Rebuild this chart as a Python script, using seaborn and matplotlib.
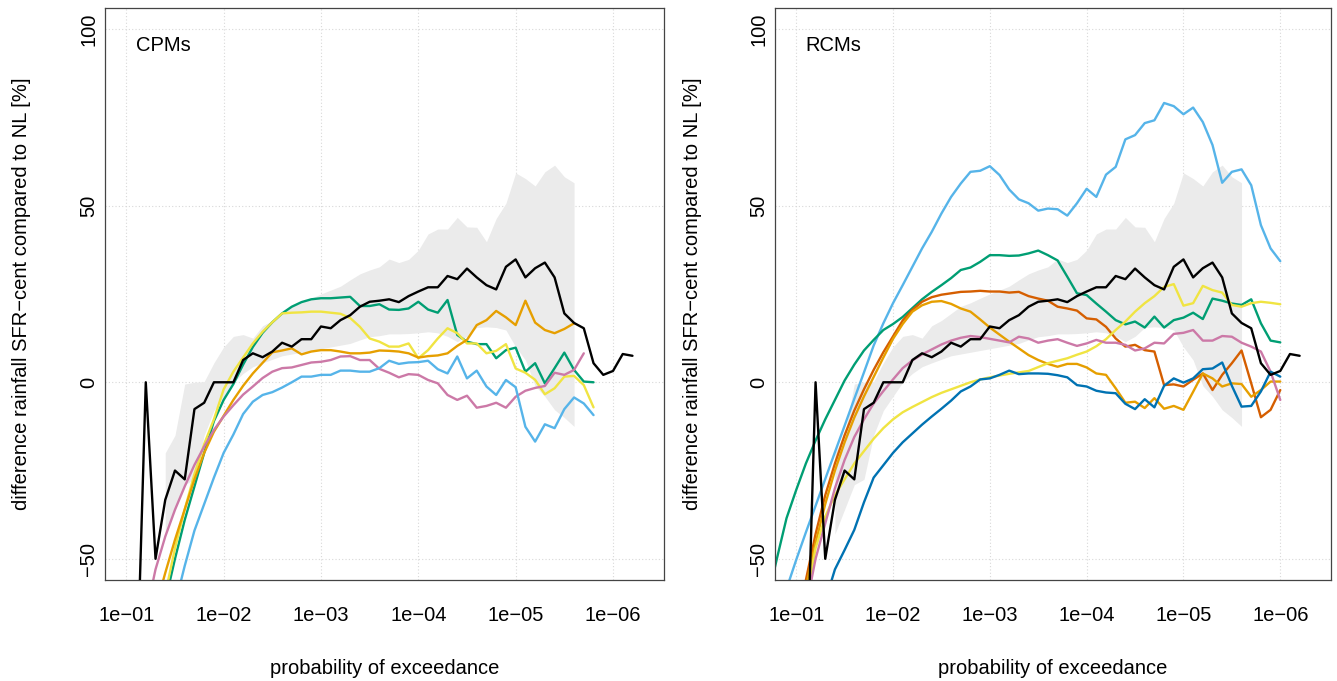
import numpy as np
import matplotlib
matplotlib.use("Agg")
import matplotlib.pyplot as plt
import seaborn as sns

# exceedance probabilities on a grid of 0.1 decade, index k -> 10**(-1 - 0.1*k)
def probs(k0, n):
    return 10.0 ** (-1 - 0.1 * (k0 + np.arange(n)))

# observations (black) and grey ensemble band, same in both panels
obs_k0 = 1
obs = [-93, 0, -50, -33.3, -25, -27.5, -7.6, -5.8, 0, 0,
       0, 6.3, 8.2, 7.1, 8.7, 11.2, 10.1, 12.2, 12.2, 15.8,
       15.3, 17.6, 19, 21.4, 22.8, 23.1, 23.5, 22.7, 24.4, 25.7,
       26.9, 26.9, 30.1, 29.2, 32.2, 29.7, 27.5, 26.3, 32.7, 34.8,
       29.7, 32.3, 33.9, 29.7, 19.5, 16.8, 15.3, 5.4, 2.1, 3.2,
       8.0, 7.5]

band_k0 = 4
band_hi = [-20, -15, -0.5, 0, 0.2, 5.5, 10, 13, 13.5, 12.5,
           16, 17.5, 19.5, 21.5, 22.5, 23.8, 25, 26.1, 27.2, 29,
           30.7, 31.8, 32.7, 34.9, 33.9, 34.8, 37.4, 42, 43.4, 43.4,
           46.7, 44, 43.9, 39.8, 46.4, 50.7, 59.3, 57.7, 55.6, 59.6,
           61.5, 58.2, 56.5]
band_lo = [-43, -36, -29, -27.5, -15, -8, -4, 0, 2.5, 4.4,
           5.5, 6.5, 7.5, 8, 8.5, 9, 9.5, 10, 10.5, 11,
           12, 12.9, 13.2, 13.7, 13.7, 13.8, 14, 14.3, 14, 13,
           11.5, 13, 15.5, 15.7, 15.5, 14.8, 10, 6.3, -1, -4,
           -7.8, -10, -12.5]

# CPMs
cpm_green_k0 = 4
cpm_green = [-62, -50, -39, -29.5, -20, -11, -5, -0.5, 5, 10,
             14, 17, 19.5, 21.4, 22.7, 23.5, 23.8, 23.8, 24, 24.2,
             21.6, 21.6, 22.1, 20.6, 20.5, 20.9, 22.8, 20.6, 19.7, 23.3,
             13.4, 11.5, 10.8, 10.8, 6.8, 9.1, 9.8, 3.0, 5.4, -0.3,
             4, 8.4, 3.5, 0.2, 0]
cpm_yellow_k0 = 4
cpm_yellow = [-60, -47, -36, -26, -17.5, -10.5, -2, 3, 7, 11,
              14.3, 17, 19.5, 19.7, 19.8, 20, 20, 19.7, 19.4, 18.2,
              15.7, 12.4, 11.5, 10.1, 10.1, 11, 6.8, 9.1, 12.4, 15.3,
              13.9, 11, 11, 8.2, 8.9, 10.8, 3.9, 2.7, 0.7, -3.4,
              -1.7, 1.6, 1.8, -0.8, -7.1]
cpm_orange_k0 = 3
cpm_orange = [-64, -54, -44.6, -36, -27.5, -20, -14, -9.5, -5, -1,
              2.5, 5.5, 8.5, 9, 9.6, 7.9, 8.7, 9.1, 9.1, 8.7,
              8.2, 8.2, 8.4, 9, 8.9, 8.7, 8.2, 7, 7.4, 7.6,
              8.2, 10.3, 12, 16.2, 17.6, 20.2, 18.4, 16.2, 23.1, 16.9,
              14.8, 13.9, 15.1, 16.7]
cpm_pink_k0 = 2
cpm_pink = [-66, -53, -43.7, -36.1, -29.5, -23.4, -18.2, -13.5, -9.7, -6.5,
            -3.5, -1.2, 1.2, 3, 4, 4.2, 4.9, 5.6, 5.8, 6.3,
            7.3, 7.4, 6.3, 6.3, 3.8, 2.7, 1.4, 2.3, 2.1, 0.65,
            -0.3, -3.6, -5, -3.8, -7.2, -6.7, -5.8, -7.2, -4.1, -2.4,
            -1.6, -1.05, 2.7, 2.1, 3.5, 8.2]
cpm_sky_k0 = 5
cpm_sky = [-63, -52, -42, -34.5, -27, -20, -14.8, -9, -5.5, -3.6,
           -2.8, -1.5, 0, 1.6, 1.6, 2.1, 2.1, 3.3, 3.3, 3.0,
           3.0, 4.0, 6.1, 5.2, 5.6, 5.7, 6.1, 3.7, 2.5, 7.3,
           1.1, 3.3, -1.2, -3.6, 0.65, -1.4, -12.6, -16.8, -11.9, -13.0,
           -7.6, -4.3, -6, -9.3]

# RCMs
rcm_sky_k0 = -1
rcm_sky = [-58.5, -50.3, -42.5, -35, -27.4, -19.8, -12.3, -4.7, 2.8, 10.4,
           16.7, 22.4, 27.5, 32.7, 37.9, 42.6, 47.8, 52.5, 56.3, 59.6,
           59.9, 61.2, 58.7, 54.6, 51.8, 50.7, 48.6, 49.2, 49, 47.2,
           50.7, 54.8, 52.5, 58.8, 61, 68.8, 70, 73.4, 74.2, 79.1,
           78.2, 75.9, 77.8, 73.7, 67.2, 56.5, 59.6, 60.3, 55.8, 44.5,
           37.9, 34.3]
rcm_green_k0 = -3
rcm_green = [-62, -50, -38.5, -30.5, -23, -16.5, -10.5, -5, 0.5, 5,
             9, 12, 14.8, 16.5, 18.5, 21, 23.5, 25.6, 27.5, 29.5,
             31.8, 32.5, 34.1, 36, 36, 35.8, 35.9, 36.5, 37.3, 36,
             34.5, 29.9, 25.2, 24.7, 22.3, 20, 17.6, 16.4, 17.2, 15.5,
             18.6, 15.5, 17.6, 18.3, 19.7, 17.9, 23.7, 23.1, 22.3, 21.9,
             23.5, 16.7, 11.8, 11.3]
rcm_verm_k0 = 0
rcm_verm = [-70, -56, -43, -32, -23, -15, -8, -2, 3.5, 8.5,
            13, 17.5, 20.5, 22.8, 24.1, 24.8, 25.2, 25.6, 25.7, 25.9,
            25.7, 25.7, 25.4, 25.6, 24.4, 23.7, 23.1, 21.4, 20.9, 20.3,
            18.1, 17.8, 15.7, 12.4, 10.1, 10.6, 9.1, 8.7, -0.8, -0.6,
            -1.2, 0.7, 2.5, -2.2, 2.1, 5.4, 9, -0.3, -9.9, -7.8,
            -2.2]
rcm_orange_k0 = 0
rcm_orange = [-72, -58, -45.5, -34.5, -25, -17, -10, -4, 1.5, 7,
              12.3, 16.5, 20, 21.8, 22.8, 23, 22.2, 20.9, 20, 17.8,
              15.5, 13.5, 11.5, 9.6, 7.7, 6.3, 5.2, 4.4, 5.2, 5.2,
              4.2, 2.5, 2.1, -1.7, -5.8, -5.5, -7.3, -4.5, -7.5, -6.7,
              -7.8, -2.7, 2.5, 1.1, -1.2, -0.3, -0.5, -4.1, -2.2, 0.2,
              0.2]
rcm_yellow_k0 = 1
rcm_yellow = [-62, -47, -38, -32, -27.5, -23, -19.5, -16, -13, -10.5,
              -8.5, -7, -5.6, -4.2, -3, -2, -1, 0, 0.8, 1.4,
              1.9, 2.4, 2.8, 3.2, 4.3, 5.4, 6.1, 6.8, 7.8, 8.7,
              10.2, 12.2, 14.8, 17.2, 20, 22.4, 24.4, 27, 27.8, 21.7,
              22.4, 27.3, 26.1, 25.4, 21.9, 21.4, 22.4, 22.8, 22.5, 22.1]
rcm_pink_k0 = 1
rcm_pink = [-64, -50, -40, -30, -22, -15.5, -10.5, -6, -2.5, 0.8,
            4, 6.2, 7.9, 9.3, 10.7, 11.8, 12.6, 13.1, 12.8, 12.3,
            11.8, 11.3, 12.9, 12.4, 11.2, 11.8, 12.2, 11.2, 10.3, 11,
            12, 11.2, 11.2, 10.6, 9, 9.6, 11.2, 11, 13.7, 14,
            14.8, 11.8, 11.8, 13.1, 12.9, 11.2, 10.1, 8.7, 3, -5]
rcm_blue_k0 = 3
rcm_blue = [-62, -53, -47.5, -41.8, -34, -27, -23.5, -20, -17, -14.5,
            -12, -9.7, -7.5, -5.2, -2.6, -1.2, 0.8, 1.1, 2.1, 3.3,
            2.3, 2.5, 2.5, 2.4, 2.0, 1.4, -0.8, -1.2, -2.4, -2.9,
            -3.1, -6.1, -7.6, -4.8, -7.1, -1.0, 1.1, -0.1, 1.1, 3.7,
            3.9, 5.6, -1, -6.9, -6.7, -2.6, 3, 1.6]

tick_probs = [1e-1, 1e-2, 1e-3, 1e-4, 1e-5, 1e-6]
tick_labels = ["1e\u221201", "1e\u221202", "1e\u221203", "1e\u221204", "1e\u221205", "1e\u221206"]
ytick_vals = [-50, 0, 50, 100]
ytick_labels = ["\u221250", "0", "50", "100"]

panels = [
    ("CPMs", [(cpm_green_k0, cpm_green, "#009E73"),
              (cpm_yellow_k0, cpm_yellow, "#F0E442"),
              (cpm_orange_k0, cpm_orange, "#E69F00"),
              (cpm_pink_k0, cpm_pink, "#CC79A7"),
              (cpm_sky_k0, cpm_sky, "#56B4E9")]),
    ("RCMs", [(rcm_sky_k0, rcm_sky, "#56B4E9"),
              (rcm_green_k0, rcm_green, "#009E73"),
              (rcm_verm_k0, rcm_verm, "#D55E00"),
              (rcm_orange_k0, rcm_orange, "#E69F00"),
              (rcm_yellow_k0, rcm_yellow, "#F0E442"),
              (rcm_pink_k0, rcm_pink, "#CC79A7"),
              (rcm_blue_k0, rcm_blue, "#0072B2")]),
]

sns.set_style("white")
plt.rcParams['font.family'] = ['Liberation Sans', 'DejaVu Sans']
plt.rcParams['text.color'] = 'black'
fs = 14.5

fig = plt.figure(figsize=(13.37, 6.81), dpi=100)
axes = [fig.add_axes([105 / 1337, 101 / 681, 559 / 1337, 572 / 681]),
        fig.add_axes([775 / 1337, 101 / 681, 556 / 1337, 572 / 681])]

for ax, (name, series) in zip(axes, panels):
    ax.set_xscale("log")

    # grid
    for t in tick_probs:
        ax.axvline(t, color="#d8d8d8", lw=0.8, ls=(0, (1, 2)), zorder=0)
    for t in ytick_vals:
        ax.axhline(t, color="#d8d8d8", lw=0.8, ls=(0, (1, 2)), zorder=0)

    bx = probs(band_k0, len(band_hi))
    ax.fill_between(bx, band_lo, band_hi, color="#ebebeb", lw=0, zorder=1)

    for k0, vals, col in series:
        sns.lineplot(x=probs(k0, len(vals)), y=vals, color=col, lw=1.7,
                     sort=False, estimator=None, ax=ax, zorder=2)
    sns.lineplot(x=probs(obs_k0, len(obs)), y=obs, color="black", lw=1.7,
                 sort=False, estimator=None, ax=ax, zorder=3)

    ax.set_xlim(10 ** -0.781, 10 ** -6.524)
    ax.set_ylim(-56, 106)
    ax.xaxis.set_minor_locator(matplotlib.ticker.NullLocator())
    ax.set_xticks(tick_probs)
    ax.set_xticklabels(tick_labels)
    ax.set_yticks(ytick_vals)
    ax.set_yticklabels(ytick_labels, rotation=90, va="center")
    ax.tick_params(axis="both", direction="out", length=9, width=0.9,
                   color="#444444", labelsize=fs, labelcolor="black")
    ax.tick_params(axis="x", pad=9.5)
    ax.tick_params(axis="y", pad=-4)
    ax.set_xlabel("")
    ax.set_ylabel("")
    for sp in ax.spines.values():
        sp.set_color("#444444")
        sp.set_linewidth(0.9)
    ax.text(0.055, 0.935, name, transform=ax.transAxes, ha="left", va="center",
            fontsize=fs, color="black")

    bb = ax.get_position()
    fig.text((bb.x0 + bb.x1) / 2, 13 / 681, "probability of exceedance",
             ha="center", va="center", fontsize=fs)
    fig.text(bb.x0 - 83 / 1337, (bb.y0 + bb.y1) / 2,
             "difference rainfall SFR\u2212cent compared to NL [%]",
             ha="center", va="center", rotation=90, fontsize=fs)

fig.savefig("out.png", dpi=100)
